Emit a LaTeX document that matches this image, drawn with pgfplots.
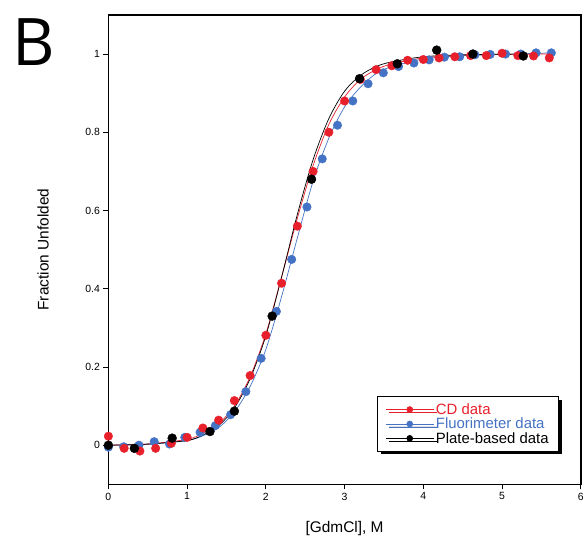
\documentclass[border=0pt]{standalone}
\usepackage{pgfplots}
\pgfplotsset{compat=1.18}
\usepackage{fontspec}
\setmainfont{Liberation Sans}
\newfontfamily\letterfont{Open Sans}
\usetikzlibrary{shadows}
\definecolor{cdred}{RGB}{232,32,44}
\definecolor{flblue}{RGB}{68,114,196}

\begin{document}
\begin{tikzpicture}
\begin{axis}[
  scale only axis, width=475pt, height=472pt,
  xmin=0, xmax=6, ymin=-0.1, ymax=1.1,
  xtick={0,1,2,3,4,5,6},
  ytick={0,0.2,0.4,0.6,0.8,1},
  tick align=outside, xtick pos=bottom, ytick pos=left,
  major tick length=5pt,
  every tick/.style={black, line width=0.9pt},
  axis line style={line width=1.5pt},
  /pgf/number format/assume math mode=true,
  tick label style={font=\fontsize{10.5}{12}\selectfont},
  label style={font=\fontsize{15.5}{17}\selectfont},
  xlabel={[GdmCl], M},
  ylabel={Fraction Unfolded},
  xlabel style={yshift=-14pt},
  ylabel style={yshift=30pt},
  legend cell align=left,
  legend style={at={(0.954,0.07)}, anchor=south east,
    draw=black, line width=0.8pt, fill=white,
    drop shadow={shadow xshift=3pt, shadow yshift=-3pt, fill=black, opacity=1},
    font=\fontsize{15}{16}\selectfont,
    nodes={inner ysep=0pt, text height=10.5pt, text depth=1pt},
    row sep=3pt, inner xsep=8pt, inner ysep=7pt},
  legend image code/.code={\draw[#1, mark repeat=2, mark phase=2, mark size=3pt]
    plot coordinates {(0pt,0pt) (24pt,0pt) (48pt,0pt)};},
]
\addlegendimage{cdred, line width=0.6pt, mark=*}
\addlegendentry{\textcolor{cdred}{CD data}}
\addlegendimage{flblue, line width=0.6pt, mark=*}
\addlegendentry{\textcolor{flblue}{Fluorimeter data}}
\addlegendimage{black, line width=0.6pt, mark=*}
\addlegendentry{Plate-based data}

% fitted curves
\addplot[forget plot, flblue, line width=0.7pt, smooth] coordinates {
  (0,0) (0.5,0.002) (1.0,0.012) (1.2,0.024) (1.4,0.045) (1.6,0.085) (1.8,0.15)
  (2.0,0.245) (2.2,0.38) (2.4,0.53) (2.6,0.675) (2.8,0.785) (3.0,0.865)
  (3.2,0.915) (3.4,0.95) (3.6,0.968) (4.0,0.987) (4.5,0.996) (5.0,0.999) (5.64,1.003)
};
\addplot[forget plot, cdred, line width=0.7pt, smooth] coordinates {
  (0,0) (0.5,0.003) (1.0,0.015) (1.2,0.03) (1.4,0.055) (1.6,0.1) (1.8,0.175)
  (2.0,0.285) (2.2,0.43) (2.4,0.58) (2.6,0.715) (2.8,0.82) (3.0,0.89)
  (3.2,0.935) (3.4,0.96) (3.6,0.975) (4.0,0.99) (4.5,0.997) (5.0,0.999) (5.63,1.0)
};
\addplot[forget plot, black, line width=0.7pt, smooth] coordinates {
  (0,0) (0.5,0.003) (1.0,0.012) (1.2,0.026) (1.4,0.05) (1.6,0.095) (1.8,0.17)
  (2.0,0.28) (2.2,0.43) (2.4,0.59) (2.6,0.73) (2.8,0.835) (3.0,0.905)
  (3.2,0.945) (3.4,0.968) (3.6,0.98) (4.0,0.993) (4.5,0.998) (5.3,1.0)
};

% Fluorimeter data
\addplot[forget plot, only marks, mark=*, mark size=4.3pt, flblue] coordinates {
  (0,-0.005) (0.194,-0.004) (0.388,0.0) (0.582,0.009) (0.776,0.003)
  (0.97,0.02) (1.164,0.033) (1.358,0.05) (1.552,0.078) (1.746,0.137)
  (1.94,0.222) (2.134,0.342) (2.328,0.475) (2.522,0.609) (2.716,0.732)
  (2.91,0.818) (3.104,0.88) (3.298,0.924) (3.492,0.952) (3.686,0.968)
  (3.88,0.977) (4.074,0.985) (4.268,0.992) (4.462,0.993) (4.656,0.998)
  (4.85,0.999) (5.044,1.0) (5.238,1.0) (5.432,1.003) (5.626,1.003)
};
% CD data
\addplot[forget plot, only marks, mark=*, mark size=4.3pt, cdred] coordinates {
  (0,0.023) (0.2,-0.008) (0.4,-0.015) (0.6,-0.008) (0.8,0.005)
  (1.0,0.02) (1.2,0.044) (1.4,0.064) (1.6,0.114) (1.8,0.178)
  (2.0,0.281) (2.2,0.414) (2.4,0.56) (2.6,0.70) (2.8,0.80)
  (3.0,0.88) (3.2,0.935) (3.4,0.96) (3.6,0.97) (3.8,0.984)
  (4.0,0.986) (4.2,0.99) (4.4,0.993) (4.6,0.996) (4.8,0.996)
  (5.0,1.002) (5.2,0.996) (5.4,0.995) (5.6,0.99)
};
% Plate-based data
\addplot[forget plot, only marks, mark=*, mark size=4.5pt, black] coordinates {
  (0,0.0) (0.33,-0.008) (0.81,0.018) (1.29,0.035) (1.6,0.087) (2.08,0.33)
  (2.58,0.68) (3.19,0.937) (3.67,0.975) (4.17,1.01) (4.63,1.0) (5.27,0.995)
};
\end{axis}
\node[anchor=north west, inner sep=0pt, font=\letterfont\fontsize{66}{70}\selectfont]
  at ([shift={(-97pt,-4pt)}]current axis.north west) {B};
\path ([shift={(-109pt,-63pt)}]current axis.south west)
  rectangle ([shift={(3pt,15pt)}]current axis.north east);
\end{tikzpicture}
\end{document}
